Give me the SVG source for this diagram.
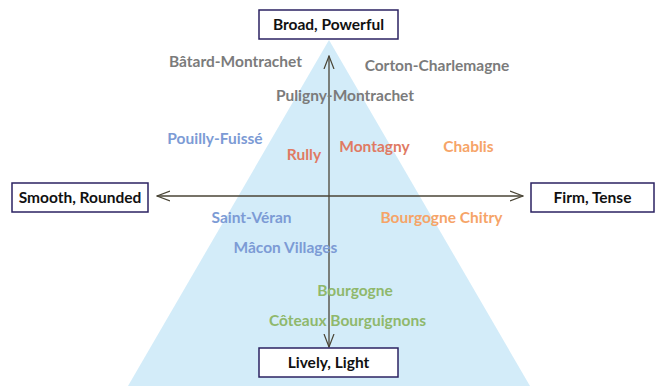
<svg xmlns="http://www.w3.org/2000/svg" width="662" height="386" viewBox="0 0 662 386">
<defs>
<style>
text{font-family:Lato,"Liberation Sans",sans-serif;font-weight:bold;font-size:15.5px;text-anchor:middle}
.box rect{fill:#fff;stroke:#2b2262;stroke-width:1.5}
.box text{fill:#111;font-size:15.5px}
.ax{stroke:#4a4536;stroke-width:1.3;fill:none}
.g{fill:#7b7b7b}.b{fill:#7c9bd5}.r{fill:#e07a63}.o{fill:#f6a468}.gr{fill:#8fb86c}
</style>
<marker id="ah" viewBox="0 0 14 12" refX="13" refY="6" markerWidth="14" markerHeight="12" markerUnits="userSpaceOnUse" orient="auto-start-reverse">
<path d="M0,1 L13,6 L0,11" fill="none" stroke="#4a4536" stroke-width="1.2"/>
</marker>
</defs>
<polygon points="329,40 128,386 530,386" fill="#d3ecf9"/>
<g id="connectors">
<line class="ax" x1="329" y1="56" x2="329" y2="347" marker-start="url(#ah)" marker-end="url(#ah)"/>
<line class="ax" x1="157" y1="196" x2="523" y2="196" marker-start="url(#ah)" marker-end="url(#ah)"/>
</g>
<g id="broad" class="box"><rect x="259" y="10" width="139" height="29"/><text x="328.5" y="30">Broad, Powerful</text></g>
<g id="smooth" class="box"><rect x="12" y="183" width="136" height="29"/><text x="80" y="203">Smooth, Rounded</text></g>
<g id="firm" class="box"><rect x="531" y="183" width="123" height="29"/><text x="592.5" y="203">Firm, Tense</text></g>
<g id="lively" class="box"><rect x="259" y="348" width="139" height="29"/><text x="328.5" y="368">Lively, Light</text></g>
<g id="labels">
<text class="g" x="235.5" y="66.5">Bâtard-Montrachet</text>
<text class="g" x="437" y="70.5">Corton-Charlemagne</text>
<text class="g" x="345" y="100.5">Puligny-Montrachet</text>
<text class="b" x="215" y="143.5">Pouilly-Fuissé</text>
<text class="r" x="304" y="159.5">Rully</text>
<text class="r" x="374.5" y="151.5">Montagny</text>
<text class="o" x="468.5" y="151.5">Chablis</text>
<text class="b" x="251.5" y="222.5">Saint-Véran</text>
<text class="o" x="441.5" y="222.5">Bourgogne Chitry</text>
<text class="b" x="285.5" y="252.5">Mâcon Villages</text>
<text class="gr" x="355" y="295.5">Bourgogne</text>
<text class="gr" x="347.5" y="325.5">Côteaux Bourguignons</text>
</g>
</svg>
